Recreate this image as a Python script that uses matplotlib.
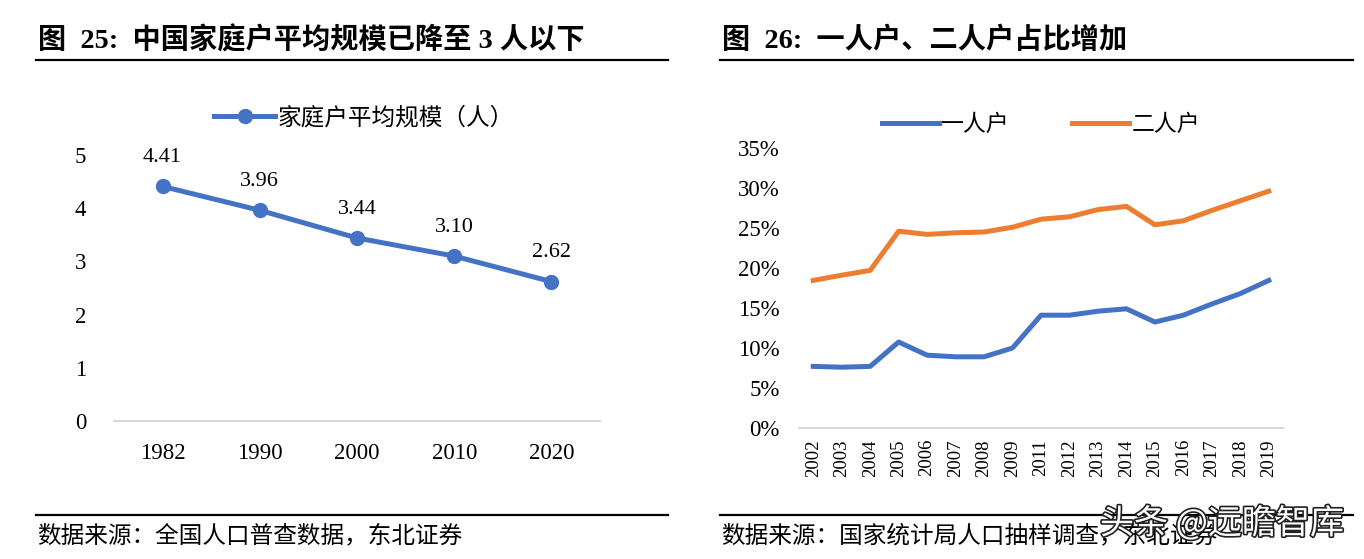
import matplotlib
matplotlib.use('Agg')
import matplotlib.pyplot as plt
import matplotlib.patheffects as pe
from matplotlib.lines import Line2D
from matplotlib.ticker import PercentFormatter

plt.rcParams['font.family'] = ['Liberation Serif', 'Noto Sans CJK SC', 'DejaVu Sans']
plt.rcParams['axes.unicode_minus'] = False

# 图25 数据
census_years = ['1982', '1990', '2000', '2010', '2020']
household_size = [4.41, 3.96, 3.44, 3.10, 2.62]

# 图26 数据
survey_years = ['2002', '2003', '2004', '2005', '2006', '2007', '2008', '2009',
                '2011', '2012', '2013', '2014', '2015', '2016', '2017', '2018', '2019']
one_person = [7.7, 7.6, 7.7, 10.75, 9.1, 8.9, 8.9, 10.0,
              14.1, 14.1, 14.6, 14.9, 13.25, 14.1, 15.5, 16.8, 18.45]
two_person = [18.45, 19.1, 19.7, 24.6, 24.2, 24.4, 24.5, 25.1,
              26.1, 26.4, 27.3, 27.7, 25.4, 25.9, 27.2, 28.4, 29.6]

BLUE = '#4472C4'
ORANGE = '#ED7D31'
W, H = 1364, 559

fig = plt.figure(figsize=(W / 100, H / 100), dpi=100)


def fx(px):
    return px / W


def fy(py):
    return 1 - py / H


# 标题和分隔线
fig.text(fx(38), fy(40), '图  25:  中国家庭户平均规模已降至 3 人以下', fontsize=20.3,
         fontweight='bold', va='center', ha='left')
fig.text(fx(722), fy(40), '图  26:  一人户、二人户占比增加', fontsize=20.3,
         fontweight='bold', va='center', ha='left')
for x0, x1 in [(36, 668), (720, 1353)]:
    for yy in (60, 515):
        fig.add_artist(Line2D([fx(x0), fx(x1)], [fy(yy), fy(yy)], color='black', lw=1.6))

fig.text(fx(37), fy(536), '数据来源：全国人口普查数据，东北证券', fontsize=17, va='center', ha='left')
fig.text(fx(721), fy(536), '数据来源：国家统计局人口抽样调查，东北证券', fontsize=17, va='center', ha='left')

# 左图
ax1 = fig.add_axes([fx(114), fy(421), fx(486), (421 - 155) / H])
x1 = range(len(census_years))
ax1.plot(x1, household_size, color=BLUE, lw=3.6, marker='o', markersize=10,
         label='家庭户平均规模（人）')
for i, v in enumerate(household_size):
    ax1.annotate(f'{v:.2f}', (i, v), xytext=(0, 14), textcoords='offset points',
                 ha='center', va='bottom', fontsize=16)
ax1.set_xlim(-0.5, len(census_years) - 0.5)
ax1.set_ylim(0, 5)
ax1.set_yticks(range(6))
ax1.set_xticks(list(x1))
ax1.set_xticklabels(census_years)
ax1.tick_params(axis='both', length=0, labelsize=16.5)
ax1.tick_params(axis='x', pad=16)
ax1.tick_params(axis='y', pad=20)
for s in ['top', 'right', 'left']:
    ax1.spines[s].set_visible(False)
ax1.spines['bottom'].set_color('#D9D9D9')
ax1.spines['bottom'].set_linewidth(1.5)
ax1.legend(loc='center', bbox_to_anchor=(fx(364), fy(118)), bbox_transform=fig.transFigure,
           frameon=False, fontsize=17, handlelength=2.6, handletextpad=0.1)

# 右图
ax2 = fig.add_axes([fx(799), fy(428), fx(484), (428 - 148) / H])
x2 = range(len(survey_years))
ax2.plot(x2, one_person, color=BLUE, lw=3.6, label='一人户')
ax2.plot(x2, two_person, color=ORANGE, lw=3.6, label='二人户')
ax2.set_xlim(-0.5, len(survey_years) - 0.5)
ax2.set_ylim(0, 35)
ax2.set_yticks(range(0, 36, 5))
ax2.yaxis.set_major_formatter(PercentFormatter(decimals=0))
ax2.set_xticks(list(x2))
ax2.set_xticklabels(survey_years, rotation=90)
ax2.tick_params(axis='both', length=0)
ax2.tick_params(axis='y', labelsize=16.5, pad=14)
ax2.tick_params(axis='x', labelsize=13.5, pad=8)
for s in ['top', 'right', 'left']:
    ax2.spines[s].set_visible(False)
ax2.spines['bottom'].set_color('#D9D9D9')
ax2.spines['bottom'].set_linewidth(1.5)
ax2.legend(loc='center', bbox_to_anchor=(fx(1041), fy(125)), bbox_transform=fig.transFigure,
           frameon=False, fontsize=16.5, ncol=2, handlelength=2.5, handletextpad=0.1,
           columnspacing=2.7)

# 水印
fig.text(fx(1100), fy(524), '头条 @远瞻智库', fontsize=24.5, va='center', ha='left',
         color='white', family=['Noto Sans CJK SC', 'DejaVu Sans'],
         path_effects=[pe.withStroke(linewidth=2.4, foreground='#222222')])

fig.savefig('out.png', dpi=100)
